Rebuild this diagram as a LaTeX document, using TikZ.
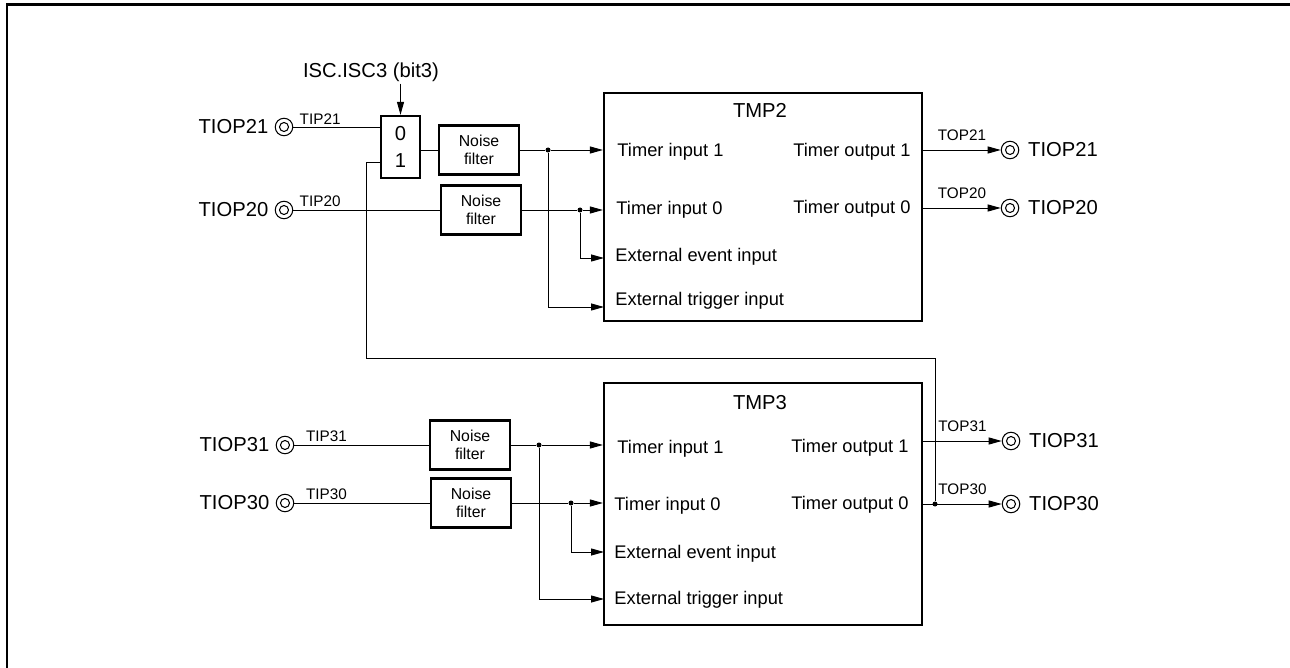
\documentclass[tikz,border=0pt]{standalone}
\usepackage{fontspec}
\setmainfont{Liberation Sans}
\usetikzlibrary{arrows.meta,positioning}

\begin{document}
\begin{tikzpicture}[x=0.02cm, y=-0.02cm, line width=0.55pt, >={Triangle[length=2.6mm, width=1.4mm]},
	every node/.style={font=\fontsize{10.4}{12}\selectfont},
	blk/.style={draw, line width=1.3pt, minimum width=6.36cm, inner sep=0pt},
	nf/.style={draw, line width=1.3pt, minimum width=1.6cm, minimum height=0.98cm, align=center, inner sep=0pt, font=\fontsize{9}{10.2}\selectfont},
	mx/.style={draw, line width=1.3pt, minimum width=0.78cm, minimum height=1.24cm, align=center, inner sep=0pt, font=\fontsize{11.5}{15.3}\selectfont},
	port/.style={circle, draw, line width=0.6pt, minimum size=0.35cm, inner sep=0pt, path picture={\draw[line width=0.6pt] (path picture bounding box.center) circle (0.09cm);}},
	pname/.style={font=\fontsize{11.5}{14}\selectfont, inner sep=1pt},
	sig/.style={font=\fontsize{8.7}{10}\selectfont, inner sep=1.4pt},
	jn/.style={circle, fill, inner sep=0pt, minimum size=0.1cm},
	lab/.style={inner sep=0pt}]
	\useasboundingbox (0,0) rectangle (1290,668);
	\draw[line width=1.7pt] (7,668) -- (7,4.5) -- (1290,4.5);

	% TMP2 block
	\node[blk, minimum height=4.56cm] (tmpA) at (763,207) {};
	\node[pname] (tA) at (760,110) {TMP2};
	\node[lab, anchor=base west] (iA1) at (617,156.5) {Timer input 1};
	\node[lab, anchor=base west] (iA0) at (616,214.5) {Timer input 0};
	\node[lab, anchor=base west] (eA) at (615,261.5) {External event input};
	\node[lab, anchor=base west] (gA) at (615,305.5) {External trigger input};
	\node[lab, anchor=base east] (oA1) at (911,156.5) {Timer output 1};
	\node[lab, anchor=base east] (oA0) at (911,213.5) {Timer output 0};
	\coordinate (evA) at (604,258);
	\coordinate (trA) at (604,307);

	% selector and filters of TMP2
	\node[pname] (isc) at (371,72) {ISC.ISC3 (bit3)};
	\node[mx] (mx) at (400.5,147) {0\\1};
	\coordinate (mxB) at ([yshift=-0.3cm]mx.west);
	\draw[->] (mx.north |- isc.south) -- (mx.north);
	\node[nf] (nfA1) at (479,150) {Noise\\filter};
	\node[nf] (nfA0) at (481,210) {Noise\\filter};
	\node[jn] (jA1) at (548,150) {};
	\node[jn] (jA0) at (580,210) {};

	\node[port] (pA1) at (284,127) {};
	\node[pname, left=2.4pt of pA1] (nA1) {TIOP21};
	\node[port] (pA0) at (284,210) {};
	\node[pname, left=2.4pt of pA0] (nA0) {TIOP20};
	\draw (pA1) -- (pA1 -| mx.west) node[sig, pos=0, above right, xshift=2pt] {TIP21};
	\draw (mx.east |- nfA1) -- (nfA1);
	\draw (pA0) -- (nfA0) node[sig, pos=0, above right, xshift=2pt] {TIP20};
	\draw (nfA1) -- (jA1);
	\draw (nfA0) -- (jA0);
	\draw[->] (jA1) -- (jA1 -| tmpA.west);
	\draw[->] (jA1) |- (trA);
	\draw[->] (jA0) -- (jA0 -| tmpA.west);
	\draw[->] (jA0) |- (evA);

	\node[port] (qA1) at (1010,150) {};
	\node[pname, right=3.8pt of qA1] (mA1) {TIOP21};
	\node[port] (qA0) at (1010,208) {};
	\node[pname, right=3.8pt of qA0] (mA0) {TIOP20};
	\draw[->] (tmpA.east |- qA1) -- (qA1) node[sig, midway, above=3.5pt] {TOP21};
	\draw[->] (tmpA.east |- qA0) -- (qA0) node[sig, midway, above=3.5pt] {TOP20};

	% TMP3 block
	\node[blk, minimum height=4.84cm] (tmpB) at (763,504) {};
	\node[pname] (tB) at (760,403) {TMP3};
	\node[lab, anchor=base west] (iB1) at (617,453.5) {Timer input 1};
	\node[lab, anchor=base west] (iB0) at (614,510.5) {Timer input 0};
	\node[lab, anchor=base west] (eB) at (614,558.5) {External event input};
	\node[lab, anchor=base west] (gB) at (614,604.5) {External trigger input};
	\node[lab, anchor=base east] (oB1) at (909,452.5) {Timer output 1};
	\node[lab, anchor=base east] (oB0) at (909,509.5) {Timer output 0};
	\coordinate (evB) at (604,552);
	\coordinate (trB) at (604,599);

	\node[nf] (nfB1) at (470,445) {Noise\\filter};
	\node[nf] (nfB0) at (471,503) {Noise\\filter};
	\node[jn] (jB1) at (539,445) {};
	\node[jn] (jB0) at (571,503) {};

	\node[port] (pB1) at (285,445) {};
	\node[pname, left=2.4pt of pB1] (nB1) {TIOP31};
	\node[port] (pB0) at (285,503) {};
	\node[pname, left=2.4pt of pB0] (nB0) {TIOP30};
	\draw (pB1) -- (nfB1) node[sig, pos=0, above right, xshift=5pt] {TIP31};
	\draw (pB0) -- (nfB0) node[sig, pos=0, above right, xshift=5pt] {TIP30};
	\draw (nfB1) -- (jB1);
	\draw (nfB0) -- (jB0);
	\draw[->] (jB1) -- (jB1 -| tmpB.west);
	\draw[->] (jB1) |- (trB);
	\draw[->] (jB0) -- (jB0 -| tmpB.west);
	\draw[->] (jB0) |- (evB);

	\node[port] (qB1) at (1011,441) {};
	\node[pname, right=3.8pt of qB1] (mB1) {TIOP31};
	\node[port] (qB0) at (1011,504) {};
	\node[pname, right=3.8pt of qB0] (mB0) {TIOP30};
	\draw[->] (tmpB.east |- qB1) -- (qB1) node[sig, midway, above=3.5pt] {TOP31};
	\draw[->] (tmpB.east |- qB0) -- (qB0) node[sig, midway, above=3.5pt] {TOP30};

	% TIOP30 output back to selector input 1
	\node[jn] (jB) at (935,504) {};
	\draw (mxB) -- ++(-13,0) -- ++(0,196) -| (jB);
\end{tikzpicture}
\end{document}
